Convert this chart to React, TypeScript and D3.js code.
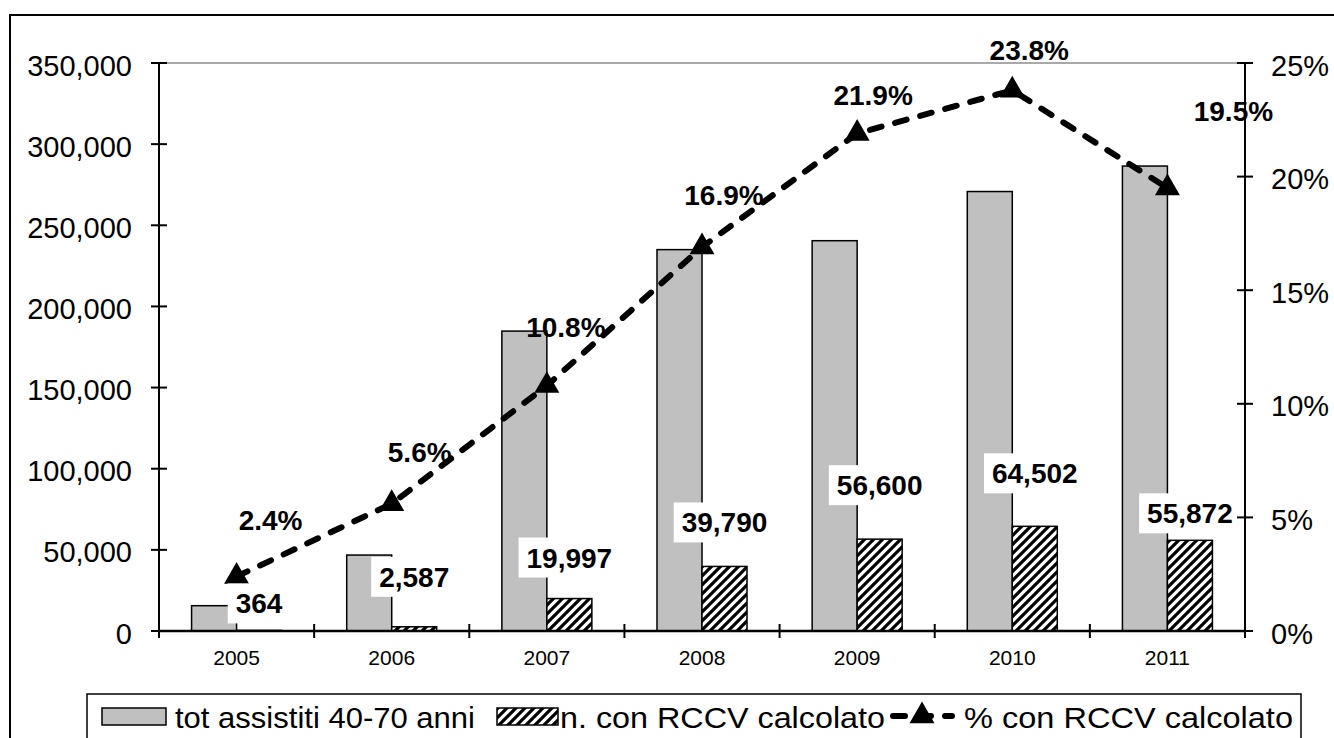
import React from 'react';
import * as d3 from 'd3';

const years = ['2005', '2006', '2007', '2008', '2009', '2010', '2011'];
const totAssistiti = [15600, 46800, 184800, 235000, 240500, 270800, 286500];
const conRCCV = [364, 2587, 19997, 39790, 56600, 64502, 55872];
const pctRCCV = [2.4, 5.6, 10.8, 16.9, 21.9, 23.8, 19.5];
const leftTicks = [0, 50000, 100000, 150000, 200000, 250000, 300000, 350000];
const rightTicks = [0, 5, 10, 15, 20, 25];
const legendLabels = ['tot assistiti 40-70 anni', 'n. con RCCV  calcolato', '% con RCCV  calcolato'];

// manual label placement tweaks (pixels), as in the original sheet
const valueLabelDy = [-17, -40, -31, -34, -44, -43, -17];
const pctLabelOffset: [number, number][] = [[34, -46], [28, -42], [19, -49], [22, -42], [16, -28], [17, -30], [66, -67]];

const W = 1334, H = 738;
const FONT = '"Liberation Sans", Arial, Helvetica, sans-serif';

export default function App() {
  const left = 159, right = 1245, top = 63, bottom = 631;
  const x = d3.scaleBand<string>().domain(years).range([left, right]).padding(0);
  const bw = x.bandwidth();
  const barW = 45;
  const sub = d3.scaleBand<string>().domain(['tot', 'rccv']).range([bw / 2 - barW, bw / 2 + barW]).padding(0);
  const y = d3.scaleLinear().domain([0, 350000]).range([bottom, top]);
  const y2 = d3.scaleLinear().domain([0, 25]).range([bottom, top]);
  const fmt = d3.format(',');
  const cx = (i: number) => (x(years[i]) as number) + bw / 2;

  const linePath = d3.line<number>().x((_, i) => cx(i)).y((d) => y2(d))(pctRCCV) as string;
  const tri = d3.symbol().type(d3.symbolTriangle).size(270)() as string;

  const boundaries = d3.range(years.length + 1).map((i) => left + i * x.step());

  const textW = (s: string, fs: number) =>
    s.split('').reduce((a, c) => a + (c === ',' || c === '.' ? 0.278 : c === '%' ? 0.889 : 0.556), 0) * fs;

  return (
    <svg width={W} height={H} style={{ position: 'absolute', left: 0, top: 0, background: '#fff' }} fontFamily={FONT}>
      <defs>
        <pattern id="hatch" patternUnits="userSpaceOnUse" width={9} height={9}>
          <rect width={9} height={9} fill="#fff" />
          <path d="M-2,2 L2,-2 M0,9 L9,0 M7,11 L11,7" stroke="#000" strokeWidth={3.2} />
        </pattern>
      </defs>
      <rect x={0} y={0} width={W} height={H} fill="#fff" />
      {/* outer frame */}
      <rect x={10} y={15} width={1340} height={760} fill="none" stroke="#000" strokeWidth={2} />
      {/* top gridline */}
      <line x1={left} x2={right} y1={top} y2={top} stroke="#8c8c8c" strokeWidth={1.5} />

      {/* bars */}
      {years.map((yr, i) => (
        <g key={yr}>
          <rect x={(x(yr) as number) + (sub('tot') as number)} y={y(totAssistiti[i])} width={sub.bandwidth()}
            height={bottom - y(totAssistiti[i])} fill="#c0c0c0" stroke="#000" strokeWidth={1.5} />
          <rect x={(x(yr) as number) + (sub('rccv') as number)} y={y(conRCCV[i])} width={sub.bandwidth()}
            height={bottom - y(conRCCV[i])} fill="url(#hatch)" stroke="#000" strokeWidth={1.5} />
        </g>
      ))}

      {/* line */}
      <path d={linePath} fill="none" stroke="#000" strokeWidth={6} strokeDasharray="12 14" strokeLinecap="round" />
      {pctRCCV.map((p, i) => (
        <path key={i} d={tri} transform={`translate(${cx(i)},${y2(p)})`} fill="#000" />
      ))}

      {/* value labels */}
      {conRCCV.map((v, i) => {
        const lx = (x(years[i]) as number) + (sub('rccv') as number) + sub.bandwidth() / 2;
        const by = y(v) + valueLabelDy[i];
        const s = fmt(v);
        const tw = textW(s, 28);
        return (
          <g key={i}>
            <rect x={lx - tw / 2 - 8} y={by - 30} width={tw + 16} height={40} fill="#fff" />
            <text x={lx} y={by} textAnchor="middle" fontSize={28} fontWeight="bold" fill="#000">{s}</text>
          </g>
        );
      })}

      {/* percent labels */}
      {pctRCCV.map((p, i) => (
        <text key={i} x={cx(i) + pctLabelOffset[i][0]} y={y2(p) + pctLabelOffset[i][1]} textAnchor="middle"
          fontSize={28} fontWeight="bold" fill="#000">{p.toFixed(1)}%</text>
      ))}

      {/* left axis */}
      <line x1={left} x2={left} y1={top} y2={bottom} stroke="#000" strokeWidth={2} />
      {leftTicks.map((t) => (
        <g key={t}>
          <line x1={left - 8} x2={left + 8} y1={y(t)} y2={y(t)} stroke="#000" strokeWidth={2} />
          <text x={132} y={y(t) + 12.5} textAnchor="end" fontSize={29} fill="#000">{fmt(t)}</text>
        </g>
      ))}
      {/* right axis */}
      <line x1={right} x2={right} y1={top} y2={bottom} stroke="#000" strokeWidth={2} />
      {rightTicks.map((t) => (
        <g key={t}>
          <line x1={right - 8} x2={right + 8} y1={y2(t)} y2={y2(t)} stroke="#000" strokeWidth={2} />
          <text x={1271} y={y2(t) + 12.5} textAnchor="start" fontSize={29} fill="#000">{t}%</text>
        </g>
      ))}
      {/* bottom axis */}
      <line x1={left} x2={right} y1={bottom} y2={bottom} stroke="#000" strokeWidth={2.5} />
      {boundaries.map((b, i) => (
        <line key={i} x1={b} x2={b} y1={bottom - 7} y2={bottom + 7} stroke="#000" strokeWidth={2} />
      ))}
      {years.map((yr, i) => (
        <text key={yr} x={cx(i)} y={665} textAnchor="middle" fontSize={21} fill="#000">{yr}</text>
      ))}

      {/* legend */}
      <rect x={87} y={694} width={1214} height={70} fill="#fff" stroke="#000" strokeWidth={1.5} />
      <rect x={102} y={708} width={64} height={17} fill="#c0c0c0" stroke="#000" strokeWidth={1.5} />
      <text x={175} y={728} fontSize={29} textLength={300} lengthAdjust="spacingAndGlyphs" fill="#000">{legendLabels[0]}</text>
      <rect x={497} y={708} width={61} height={17} fill="url(#hatch)" stroke="#000" strokeWidth={1.5} />
      <text x={560} y={728} fontSize={29} textLength={325} lengthAdjust="spacingAndGlyphs" fill="#000">{legendLabels[1]}</text>
      <line x1={893} x2={952} y1={716} y2={716} stroke="#000" strokeWidth={6} strokeDasharray="12 14" strokeLinecap="round" />
      <path d={tri} transform="translate(922,716)" fill="#000" />
      <text x={964} y={728} fontSize={29} textLength={329} lengthAdjust="spacingAndGlyphs" fill="#000">{legendLabels[2]}</text>
    </svg>
  );
}
